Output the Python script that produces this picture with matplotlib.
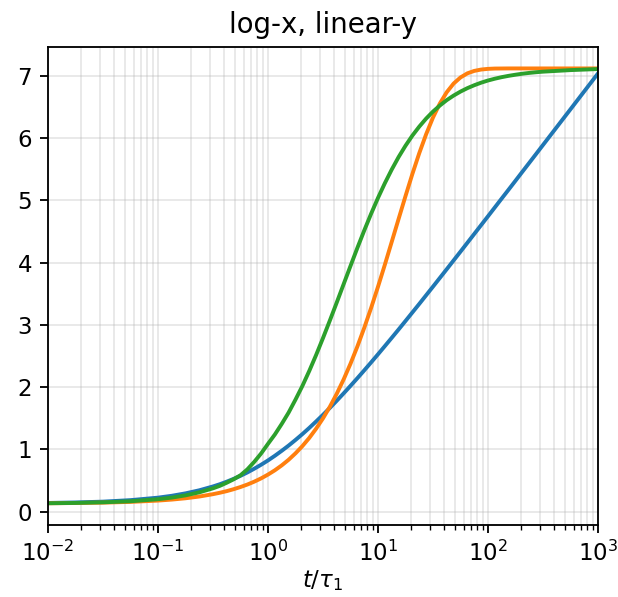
"""
log-x, linear-y relaxation curves
"""

import matplotlib
matplotlib.use("Agg")
from matplotlib import pyplot as plt

# sample times t/tau_1 (coarse on the flat left end, 1/16 decade in the bend)
t = [0.01, 0.01778, 0.03162, 0.05623, 0.1, 0.1334, 0.1778, 0.2371,
     0.3162, 0.3652, 0.4217, 0.4870, 0.5623, 0.6494, 0.7499, 0.8660,
     1.0, 1.1548, 1.3335, 1.5399, 1.7783, 2.0535, 2.3714, 2.7384,
     3.1623, 3.6517, 4.2170, 4.8697, 5.6234, 6.4938, 7.4989, 8.6596,
     10.0, 11.548, 13.335, 15.399, 17.783, 20.535, 23.714, 27.384,
     31.623, 36.517, 42.170, 48.697, 56.234, 64.938, 74.989, 86.596,
     100.0, 115.48, 133.35, 153.99, 177.83, 205.35, 237.14, 273.84,
     316.23, 562.34, 1000.0]

blue = [0.140, 0.148, 0.161, 0.185, 0.225, 0.255, 0.294, 0.343,
        0.405, 0.441, 0.482, 0.527, 0.576, 0.630, 0.690, 0.754,
        0.823, 0.898, 0.978, 1.062, 1.152, 1.246, 1.345, 1.449,
        1.556, 1.667, 1.782, 1.900, 2.021, 2.144, 2.270, 2.398,
        2.528, 2.660, 2.793, 2.927, 3.063, 3.200, 3.337, 3.476,
        3.615, 3.755, 3.895, 4.036, 4.177, 4.319, 4.461, 4.603,
        4.745, 4.888, 5.031, 5.173, 5.316, 5.460, 5.603, 5.746,
        5.890, 6.464, 7.039]

orange = [0.135, 0.139, 0.145, 0.157, 0.178, 0.194, 0.215, 0.243,
          0.281, 0.304, 0.330, 0.361, 0.396, 0.436, 0.482, 0.535,
          0.596, 0.665, 0.744, 0.834, 0.937, 1.053, 1.184, 1.333,
          1.499, 1.686, 1.894, 2.124, 2.377, 2.653, 2.953, 3.273,
          3.613, 3.968, 4.335, 4.703, 5.069, 5.424, 5.758, 6.062,
          6.331, 6.557, 6.738, 6.877, 6.975, 7.041, 7.080, 7.102,
          7.113, 7.118, 7.119, 7.120, 7.120, 7.120, 7.120, 7.120,
          7.120, 7.120, 7.120]

green = [0.135, 0.140, 0.150, 0.167, 0.200, 0.226, 0.262, 0.310,
         0.375, 0.415, 0.465, 0.520, 0.585, 0.680, 0.800, 0.935,
         1.090, 1.240, 1.410, 1.592, 1.800, 2.019, 2.260, 2.517,
         2.789, 3.071, 3.360, 3.654, 3.947, 4.237, 4.517, 4.786,
         5.040, 5.277, 5.496, 5.697, 5.878, 6.041, 6.185, 6.314,
         6.427, 6.524, 6.611, 6.684, 6.748, 6.803, 6.850, 6.891,
         6.926, 6.955, 6.980, 7.001, 7.019, 7.035, 7.048, 7.059,
         7.068, 7.093, 7.110]

DPI = 165
fig = plt.figure(figsize=(618 / DPI, 597 / DPI), dpi=DPI)
ax = fig.add_axes([0.0777, 0.1206, 0.8899, 0.8012])

ax.plot(t, blue, color="C0", lw=1.7)
ax.plot(t, orange, color="C1", lw=1.7)
ax.plot(t, green, color="C2", lw=1.7)

ax.set_xscale("log")
ax.set_xlim(1e-2, 1e3)
ax.grid(True, which="both", alpha=0.3)
ax.set_xlabel(r"$t/\tau_1$", labelpad=1)
ax.set_title("log-x, linear-y")

fig.savefig("out.png", dpi=DPI)
